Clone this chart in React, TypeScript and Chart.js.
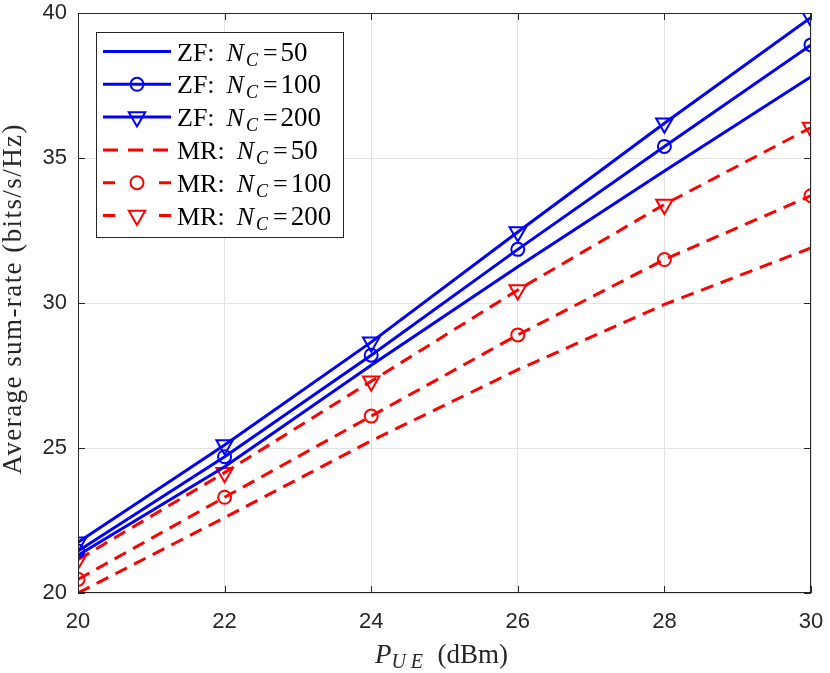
import { useEffect, useRef } from 'react';
import { Chart, registerables, Plugin } from 'chart.js';

Chart.register(...registerables);

// transmit power of each UE (dBm)
const pue = [20, 22, 24, 26, 28, 30];

// average sum-rate (bits/s/Hz)
const zf50 = [21.3, 24.35, 27.85, 31.25, 34.55, 37.8];
const zf100 = [21.45, 24.7, 28.2, 31.85, 35.4, 38.9];
const zf200 = [21.75, 25.1, 28.65, 32.45, 36.2, 39.85];
const mr50 = [20.0, 22.6, 25.25, 27.7, 29.95, 31.9];
const mr100 = [20.47, 23.3, 26.1, 28.9, 31.5, 33.7];
const mr200 = [21.15, 24.15, 27.3, 30.45, 33.4, 36.05];

const xTicks = [20, 22, 24, 26, 28, 30];
const yTicks = [20, 25, 30, 35, 40];

const BLUE = '#0000ff';
const RED = '#ff0000';
const AXIS = '#262626';
const SERIF = '"Liberation Serif", "DejaVu Serif", serif';
const SANS = '"Liberation Sans", Arial, sans-serif';
const CIRCLE_R = 6.5;
const TRI_R = 9.5;

type Row = { scheme: string; nc: string; color: string; dashed: boolean; marker: 'none' | 'circle' | 'tri' };

const legendRows: Row[] = [
	{ scheme: 'ZF:', nc: '50', color: BLUE, dashed: false, marker: 'none' },
	{ scheme: 'ZF:', nc: '100', color: BLUE, dashed: false, marker: 'circle' },
	{ scheme: 'ZF:', nc: '200', color: BLUE, dashed: false, marker: 'tri' },
	{ scheme: 'MR:', nc: '50', color: RED, dashed: true, marker: 'none' },
	{ scheme: 'MR:', nc: '100', color: RED, dashed: true, marker: 'circle' },
	{ scheme: 'MR:', nc: '200', color: RED, dashed: true, marker: 'tri' },
];

const pts = (ys: number[]) => pue.map((x, i) => ({ x, y: ys[i] }));

function drawMarker(ctx: CanvasRenderingContext2D, kind: string, x: number, y: number, color: string) {
	if (kind === 'none') return;
	ctx.save();
	ctx.strokeStyle = color;
	ctx.lineWidth = 2;
	ctx.setLineDash([]);
	ctx.beginPath();
	if (kind === 'circle') {
		ctx.arc(x, y, CIRCLE_R, 0, Math.PI * 2);
	} else {
		ctx.moveTo(x - TRI_R * 0.866, y - TRI_R * 0.5);
		ctx.lineTo(x + TRI_R * 0.866, y - TRI_R * 0.5);
		ctx.lineTo(x, y + TRI_R);
		ctx.closePath();
	}
	ctx.stroke();
	ctx.restore();
}

// spread a string so that it takes the given width
function fitSpacing(ctx: CanvasRenderingContext2D, text: string, width: number) {
	(ctx as any).letterSpacing = '0px';
	const w = ctx.measureText(text).width;
	const sp = (width - w) / Math.max(1, text.length - 1);
	(ctx as any).letterSpacing = `${Math.max(0, sp).toFixed(2)}px`;
}

const decorations: Plugin<'line'> = {
	id: 'decorations',
	afterDraw(chart) {
		const { ctx, chartArea: a, scales } = chart;
		const xs = scales.x;
		const ys = scales.y;
		ctx.save();

		// box and inward ticks
		ctx.strokeStyle = AXIS;
		ctx.lineWidth = 1;
		ctx.setLineDash([]);
		ctx.strokeRect(a.left + 0.5, a.top + 0.5, a.right - a.left - 1, a.bottom - a.top - 1);
		ctx.beginPath();
		xTicks.forEach((t) => {
			const px = Math.round(xs.getPixelForValue(t)) + 0.5;
			ctx.moveTo(px, a.bottom);
			ctx.lineTo(px, a.bottom - 7);
			ctx.moveTo(px, a.top);
			ctx.lineTo(px, a.top + 7);
		});
		yTicks.forEach((t) => {
			const py = Math.round(ys.getPixelForValue(t)) + 0.5;
			ctx.moveTo(a.left, py);
			ctx.lineTo(a.left + 7, py);
			ctx.moveTo(a.right, py);
			ctx.lineTo(a.right - 7, py);
		});
		ctx.stroke();

		// legend
		const bx = 96, by = 32, bw = 247, bh = 205;
		ctx.fillStyle = '#ffffff';
		ctx.fillRect(bx, by, bw, bh);
		ctx.strokeStyle = AXIS;
		ctx.strokeRect(bx + 0.5, by + 0.5, bw, bh);
		legendRows.forEach((row, i) => {
			const cy = 51.5 + i * 32.8;
			ctx.strokeStyle = row.color;
			ctx.lineWidth = 3;
			ctx.beginPath();
			if (row.dashed && row.marker === 'none') {
				ctx.setLineDash([15, 10]);
				ctx.moveTo(103, cy);
				ctx.lineTo(171, cy);
			} else if (row.dashed) {
				ctx.setLineDash([]);
				ctx.moveTo(103, cy);
				ctx.lineTo(115, cy);
				ctx.moveTo(159, cy);
				ctx.lineTo(171, cy);
			} else {
				ctx.setLineDash([]);
				ctx.moveTo(103, cy);
				ctx.lineTo(171, cy);
			}
			ctx.stroke();
			drawMarker(ctx, row.marker, 137, cy, row.color);

			let tx = 177;
			const base = cy + 9;
			ctx.fillStyle = '#000000';
			ctx.textBaseline = 'alphabetic';
			ctx.textAlign = 'left';
			ctx.font = `26px ${SERIF}`;
			ctx.fillText(row.scheme, tx, base);
			tx += ctx.measureText(row.scheme).width + 12;
			ctx.font = `italic 26px ${SERIF}`;
			ctx.fillText('N', tx, base);
			tx += ctx.measureText('N').width + 2;
			ctx.font = `italic 18px ${SERIF}`;
			ctx.fillText('C', tx, base + 5);
			tx += ctx.measureText('C').width + 5;
			ctx.font = `26px ${SERIF}`;
			ctx.fillText('=', tx, base);
			tx += ctx.measureText('=').width + 3;
			ctx.font = `27px ${SERIF}`;
			ctx.fillText(row.nc, tx, base);
		});

		// x title: P_UE (dBm)
		ctx.fillStyle = AXIS;
		{
			const base = 663;
			let tx = 375;
			ctx.font = `italic 27px ${SERIF}`;
			ctx.fillText('P', tx, base);
			tx += ctx.measureText('P').width;
			ctx.font = `italic 20px ${SERIF}`;
			fitSpacing(ctx, 'UE', 423 - tx);
			ctx.fillText('UE', tx, base + 5);
			(ctx as any).letterSpacing = '0px';
			ctx.font = `27px ${SERIF}`;
			ctx.textAlign = 'right';
			ctx.fillText('(dBm)', 508, base);
			ctx.textAlign = 'left';
		}

		// y title
		ctx.translate(21, 298.5);
		ctx.rotate(-Math.PI / 2);
		ctx.textAlign = 'left';
		ctx.font = `27px ${SERIF}`;
		const title = 'Average sum-rate (bits/s/Hz)';
		fitSpacing(ctx, title, 350);
		ctx.fillText(title, -176, 0);
		(ctx as any).letterSpacing = '0px';
		ctx.restore();
	},
};

export default function App() {
	const canvasRef = useRef<HTMLCanvasElement>(null);

	useEffect(() => {
		if (!canvasRef.current) return;
		const line = (data: number[], color: string, dashed: boolean, marker: string | false) => ({
			data: pts(data),
			borderColor: color,
			backgroundColor: 'rgba(0,0,0,0)',
			borderWidth: 3,
			borderDash: dashed ? [13, 8] : [],
			pointStyle: marker === false ? false : marker,
			pointRotation: marker === 'triangle' ? 180 : 0,
			pointRadius: marker === 'triangle' ? TRI_R : CIRCLE_R,
			pointBorderWidth: 2,
			pointBorderColor: color,
			pointBackgroundColor: 'rgba(0,0,0,0)',
			tension: 0,
		});
		const chart = new Chart(canvasRef.current, {
			type: 'line',
			data: {
				datasets: [
					line(zf50, BLUE, false, false),
					line(zf100, BLUE, false, 'circle'),
					line(zf200, BLUE, false, 'triangle'),
					line(mr50, RED, true, false),
					line(mr100, RED, true, 'circle'),
					line(mr200, RED, true, 'triangle'),
				] as any,
			},
			options: {
				animation: false,
				responsive: true,
				maintainAspectRatio: false,
				layout: { padding: { left: 0, top: 13, right: 19, bottom: 0 } },
				plugins: { legend: { display: false }, tooltip: { enabled: false } },
				scales: {
					x: {
						type: 'linear',
						min: 20,
						max: 30,
						afterFit: (s: any) => {
							s.height = 80;
							s.paddingLeft = 0;
							s.paddingRight = 0;
						},
						afterBuildTicks: (s: any) => {
							s.ticks = xTicks.map((v) => ({ value: v }));
						},
						ticks: { font: { family: SANS, size: 22 }, color: AXIS, padding: 16 },
						grid: { color: '#e3e3e3', drawTicks: false },
						border: { display: false },
					},
					y: {
						type: 'linear',
						min: 20,
						max: 40,
						afterFit: (s: any) => {
							s.width = 78;
							s.paddingTop = 0;
							s.paddingBottom = 0;
						},
						afterBuildTicks: (s: any) => {
							s.ticks = yTicks.map((v) => ({ value: v }));
						},
						ticks: { font: { family: SANS, size: 22 }, color: AXIS, padding: 11 },
						grid: { color: '#e3e3e3', drawTicks: false },
						border: { display: false },
					},
				},
			},
			plugins: [decorations],
		});
		return () => chart.destroy();
	}, []);

	return (
		<div style={{ position: 'absolute', left: 0, top: 0, width: 830, height: 673, background: '#fff' }}>
			<canvas ref={canvasRef}></canvas>
		</div>
	);
}
